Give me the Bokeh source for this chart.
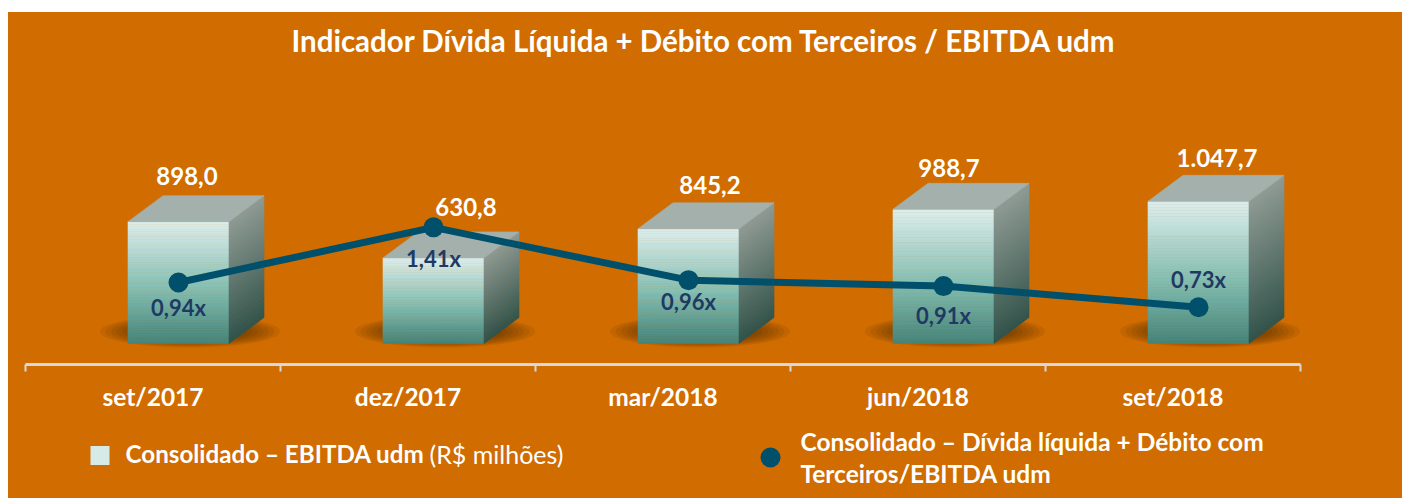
import numpy as np
from bokeh.plotting import figure
from bokeh.models import Range1d, FixedTicker, Title, Spacer
from bokeh.layouts import column, row
from bokeh.core.properties import value
from bokeh.embed import file_html
from bokeh.resources import INLINE

# ---------------- data ----------------
categories = ["set/2017", "dez/2017", "mar/2018", "jun/2018", "set/2018"]
ebitda = [898.0, 630.8, 845.2, 988.7, 1047.7]
ratio = [0.94, 1.41, 0.96, 0.91, 0.73]
ebitda_labels = ["898,0", "630,8", "845,2", "988,7", "1.047,7"]
ratio_labels = ["0,94x", "1,41x", "0,96x", "0,91x", "0,73x"]

title_text = "Indicador Dívida Líquida + Débito com Terceiros / EBITDA udm"
legend_bar_bold = "Consolidado – EBITDA udm"
legend_bar_normal = "(R$ milhões)"
legend_line_1 = "Consolidado – Dívida líquida + Débito com"
legend_line_2 = "Terceiros/EBITDA udm"

# ---------------- style / layout ----------------
ORANGE = "#D06C00"
LINE = "#004F6B"
NAVY = "#1F3A62"
AXIS = "#D9D9D9"
FONT = "Lato"

W = 1394
H_MAIN = 408
H_LEG = 78
BL, BR, BT, BB = 17, 102, 48, 56
frame_w = W - BL - BR
frame_h = H_MAIN - BT - BB
Y0, Y1 = -154.8, 2085.5
R0, R1 = 0.242, 2.831
px_x = frame_w / len(categories)
px_y = frame_h / (Y1 - Y0)

FRONT_OFF = 102.5 / 255
FRONT_W = 101 / 255
DX = 35 / px_x
DY = 26 / px_y

# label nudges (pixels)
VAL_DX = [-9, 15, 4, -12, 1]
VAL_DY = [-20, -25, -18, -15, -17]
RAT_DY = [25, 31, 21, 29, -28]


def lerp(stops, t):
    for (t0, c0), (t1, c1) in zip(stops[:-1], stops[1:]):
        if t0 <= t <= t1:
            f = (t - t0) / (t1 - t0) if t1 > t0 else 0
            c = [int(round(a + (b - a) * f)) for a, b in zip(c0, c1)]
            return "#%02x%02x%02x" % tuple(c)
    c = stops[-1][1]
    return "#%02x%02x%02x" % tuple(c)


FRONT_STOPS = [(0.0, (70, 132, 121)), (0.45, (132, 190, 178)), (1.0, (221, 238, 236))]
SIDE_STOPS = [(0.0, (48, 84, 77)), (1.0, (142, 156, 152))]
TOP_COLOR = "#A3B0AC"

p = figure(width=W, height=H_MAIN, x_range=Range1d(0, len(categories)),
           y_range=Range1d(Y0, Y1), output_backend="svg", toolbar_location=None,
           min_border_left=BL, min_border_right=BR, min_border_top=BT,
           min_border_bottom=BB, y_axis_location=None)
p.extra_y_ranges = {"ratio": Range1d(R0, R1)}
p.background_fill_color = None
p.border_fill_color = None
p.outline_line_color = None
p.grid.visible = False

p.title = Title(text=title_text, align="left", offset=266, text_color="white",
                text_font=FONT, text_font_style="bold", text_font_size="29.5px",
                standoff=6)

ax = p.xaxis[0]
centers = [i + 0.5 for i in range(len(categories))]
ax.ticker = FixedTicker(ticks=centers, minor_ticks=list(range(len(categories) + 1)))
ax.major_label_overrides = {c: lab for c, lab in zip(centers, categories)}
ax.major_tick_line_color = None
ax.major_tick_out = 0
ax.major_tick_in = 0
ax.minor_tick_out = 7
ax.minor_tick_in = 0
ax.minor_tick_line_color = AXIS
ax.minor_tick_line_width = 2
ax.axis_line_color = AXIS
ax.axis_line_width = 3
ax.major_label_standoff = 10
ax.major_label_text_color = "white"
ax.major_label_text_font = FONT
ax.major_label_text_font_style = "bold"
ax.major_label_text_font_size = "24.5px"

# ---------------- shadows ----------------
sx, sy, sw, sh = [], [], [], []
for i, v in enumerate(ebitda):
    cx = i + FRONT_OFF + (FRONT_W + DX) / 2 - 6 / px_x
    for s in np.linspace(1.0, 0.45, 10):
        sx.append(cx)
        sy.append(12 / px_y)
        sw.append(180 * s / px_x)
        sh.append(32 * s / px_y)
p.ellipse(x=sx, y=sy, width=sw, height=sh, fill_color="#3A1C00", fill_alpha=0.09,
          line_color=None)

# ---------------- 3D bars ----------------
N = 48
fl, fr, fb, ft, fc = [], [], [], [], []
sxs, sys_, scs = [], [], []
txs, tys = [], []
for i, v in enumerate(ebitda):
    xl = i + FRONT_OFF
    xr = xl + FRONT_W
    for k in range(N):
        t0, t1 = k / N, (k + 1) / N
        col = lerp(FRONT_STOPS, (t0 + t1) / 2)
        fl.append(xl); fr.append(xr)
        fb.append(v * t0); ft.append(v * t1)
        fc.append(col)
        b, t = v * t0, v * t1
        sxs.append([xr, xr + DX, xr + DX, xr])
        sys_.append([b, b + DY, t + DY, t])
        scs.append(lerp(SIDE_STOPS, (t0 + t1) / 2))
    txs.append([xl, xl + DX, xr + DX, xr])
    tys.append([v, v + DY, v + DY, v])

p.quad(left=fl, right=fr, bottom=fb, top=ft, fill_color=fc, line_color=fc, line_width=0.6)
p.patches(xs=sxs, ys=sys_, fill_color=scs, line_color=scs, line_width=0.6)
p.patches(xs=txs, ys=tys, fill_color=TOP_COLOR, line_color=TOP_COLOR, line_width=0.6)

# value labels
vx = [i + FRONT_OFF + (FRONT_W + DX) / 2 for i in range(len(ebitda))]
vy = [v + DY for v in ebitda]
p.text(x=vx, y=vy, text=ebitda_labels, x_offset=VAL_DX, y_offset=VAL_DY,
       text_align="center", text_baseline="middle", text_color="white",
       text_font=value(FONT), text_font_style="bold", text_font_size="24px")

# ---------------- line ----------------
lx = [i + FRONT_OFF + FRONT_W / 2 for i in range(len(ratio))]
p.line(x=lx, y=ratio, y_range_name="ratio", line_color=LINE, line_width=7,
       line_join="round")
p.scatter(x=lx, y=ratio, y_range_name="ratio", size=20, fill_color=LINE,
          line_color=None)
p.text(x=lx, y=ratio, text=ratio_labels, y_range_name="ratio", y_offset=RAT_DY,
       text_align="center", text_baseline="middle", text_color=NAVY,
       text_font=value(FONT), text_font_style="bold", text_font_size="22px")

# ---------------- legend strip (page-pixel coordinates) ----------------
leg = figure(width=W, height=H_LEG, x_range=Range1d(8 + BL, 8 + W - BR),
             y_range=Range1d(420 + H_LEG, 420), output_backend="svg",
             toolbar_location=None, min_border_left=BL, min_border_right=BR,
             min_border_top=0, min_border_bottom=0, x_axis_location=None,
             y_axis_location=None)
leg.background_fill_color = None
leg.border_fill_color = None
leg.outline_line_color = None
leg.grid.visible = False

leg.scatter(x=[99.5], y=[455], marker="square", size=19, fill_color="#D6EBE8",
            line_color=None)
leg.text(x=[125], y=[453], text=[legend_bar_bold], text_align="left",
         text_baseline="middle", text_color="white", text_font=value(FONT),
         text_font_style="bold", text_font_size="24.2px")
leg.text(x=[429], y=[453], text=[legend_bar_normal], text_align="left",
         text_baseline="middle", text_color="white", text_font=value(FONT),
         text_font_style="normal", text_font_size="25px")
leg.scatter(x=[770], y=[457], marker="circle", size=20, fill_color=LINE,
            line_color=None)
leg.text(x=[800, 800], y=[441, 473], text=[legend_line_1, legend_line_2],
         text_align="left", text_baseline="middle", text_color="white",
         text_font=value(FONT), text_font_style="bold", text_font_size="24.5px")

body = column(p, leg, spacing=0, styles={"background-color": ORANGE})
layout = column(Spacer(width=W + 8, height=12),
                row(Spacer(width=8, height=H_MAIN + H_LEG), body, spacing=0),
                spacing=0)
open("out.html", "w").write(file_html(layout, INLINE))
